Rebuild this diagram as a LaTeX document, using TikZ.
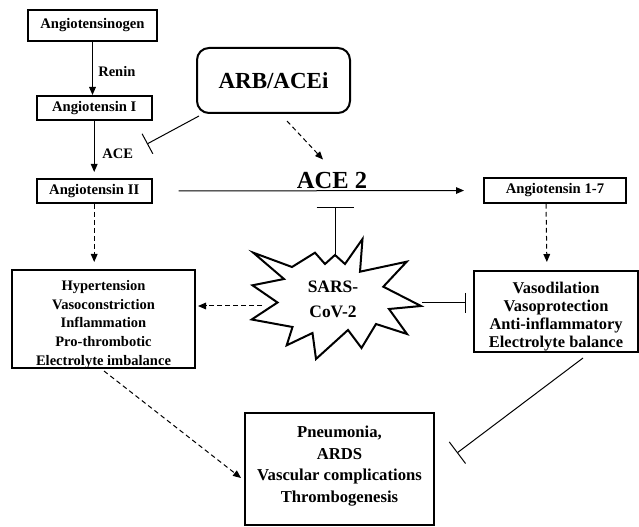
\documentclass[tikz,border=0pt]{standalone}
\usepackage{fontspec}
\setmainfont{Liberation Serif}
\usetikzlibrary{arrows.meta,calc}

\tikzset{
	pathbox/.style={draw, line width=1.5pt, inner sep=0pt, align=center},
	smallbox/.style={pathbox, font=\fontsize{11}{13}\selectfont\bfseries},
	boxtext/.style={align=center, inner sep=0.75pt},
	actarrow/.style={line width=0.75pt, -{Triangle[length=6pt,width=5pt]}},
	dasharrow/.style={actarrow, dash pattern=on 3.5pt off 2.5pt},
	inhib/.style={line width=0.75pt, -{Bar[width=#1]}},
	lbl/.style={anchor=west, inner sep=0.75pt, font=\fontsize{10.9}{13}\selectfont\bfseries},
}

\begin{document}
\begin{tikzpicture}[x=0.75pt,y=0.75pt,yscale=-1,xscale=1]
	\useasboundingbox (0,0) rectangle (639,527);
	
	%Shape: Rectangle [Angiotensinogen]
	\node[smallbox, minimum width=96.75pt, minimum height=23.25pt] (agen) at (92.5,25.5) {Angiotensinogen};
	%Shape: Rectangle [Angiotensin I]
	\node[smallbox, minimum width=86.25pt, minimum height=18pt] (ang1) at (94.2,108) {Angiotensin I};
	%Shape: Rectangle [Angiotensin II]
	\node[smallbox, minimum width=86.25pt, minimum height=18pt] (ang2) at (94.2,191) {Angiotensin II};
	%Shape: Rounded Rect [ARB/ACEi]
	\node[pathbox, rounded corners=9pt, minimum width=114.75pt, minimum height=48.75pt, font=\fontsize{17.25}{20}\selectfont\bfseries] (arb) at (273.5,80.5) {ARB/ACEi};
	%Shape: Rectangle [Angiotensin 1-7]
	\node[smallbox, minimum width=106.5pt, minimum height=18.75pt] (a17) at (555,190.5) {Angiotensin 1-7};
	%Shape: Rectangle [left effects]
	\node[pathbox, minimum width=137.25pt, minimum height=73.5pt] (hyp) at (103.5,319) {};
	%Shape: Rectangle [right effects]
	\node[pathbox, minimum width=123pt, minimum height=60.75pt] (vaso) at (556,311.5) {};
	%Shape: Rectangle [outcomes]
	\node[pathbox, minimum width=141.75pt, minimum height=84pt] (pneu) at (339.5,469) {};
	
	%Shape: Star [SARS-CoV-2]
	\draw[line width=1.5pt, line join=miter, fill=white] (253.3,252.7) -- (292,267) -- (315,252.7) -- (325,264) -- (335,255) coordinate (startop) -- (345,264) -- (362.5,239) -- (360,271.7) -- (406.7,261.7) -- (383.3,286.7) -- (421,306) -- (389,309) -- (407,334) -- (376,324) -- (361.5,348) -- (348,330) -- (316,359) -- (312.5,333) -- (286.7,345.3) -- (292.5,327) -- (251.7,319.5) -- (277.5,302.5) -- (252.5,285.3) -- (284,279) -- cycle;
	\coordinate (starleft) at (262,306);
	\coordinate (starright) at (422,303);
	\coordinate (acebar) at (335,207);
	
	% Text Node
	\node[boxtext, font=\fontsize{10.9}{13.9}\selectfont\bfseries] (hyptext) at (103.5,324.5) {Hypertension\\Vasoconstriction\\Inflammation\\Pro-thrombotic\\Electrolyte imbalance};
	% Text Node
	\node[boxtext, font=\fontsize{12.3}{13.7}\selectfont\bfseries] (vasotext) at (556,316.5) {Vasodilation\\Vasoprotection\\Anti-inflammatory\\Electrolyte balance};
	% Text Node
	\node[boxtext, font=\fontsize{12.5}{16.3}\selectfont\bfseries] (pneutext) at (339.5,466) {Pneumonia,\\ARDS\\Vascular complications\\Thrombogenesis};
	% Text Node
	\node[boxtext, font=\fontsize{13.1}{18.75}\selectfont\bfseries] (sars) at (333,299) {SARS-\\CoV-2};
	% Text Node
	\node[inner sep=0.75pt, font=\fontsize{18.4}{21}\selectfont\bfseries] (ace2) at (332,180) {ACE 2};
	% Text Node
	\node[lbl] (renin) at (97,72) {Renin};
	% Text Node
	\node[lbl] (acelbl) at (101,154) {ACE};
	
	%Straight Lines
	\draw[actarrow] (agen) -- (agen |- ang1.north);
	\draw[actarrow, shorten >=4.5pt] (ang1) -- (ang1 |- ang2.north);
	\draw[inhib=17pt] ($(arb.south west)+(3,2)$) -- (147,144);
	\draw[dasharrow] ($(arb.south)+(13.5,7)$) -- ($(ace2.north)+(-9,-11)$);
	\draw[actarrow, shorten <=19.5pt, shorten >=14.25pt] (ang2.east) -- (a17.west);
	\draw[inhib=27.75pt] (startop) -- (acebar);
	\draw[dasharrow, shorten >=6pt] ([xshift=-6.75pt]a17.south) -- ([xshift=-6.75pt]vaso.north);
	\draw[dasharrow, shorten >=5.25pt] (ang2) -- (ang2 |- hyp.north);
	\draw[dasharrow, shorten >=1.5pt] (starleft) -- (starleft -| hyp.east);
	\draw[inhib=15pt, shorten >=5.25pt] (starright) -- (starright -| vaso.west);
	\draw[dasharrow] ($(hyp.south)+(0.5,2)$) -- ($(pneu.west)+(-3,9)$);
	\draw[inhib=20.25pt] ($(vaso.south)+(27,5)$) -- ($(pneu.east)+(22,-16)$);
	
\end{tikzpicture}
\end{document}
